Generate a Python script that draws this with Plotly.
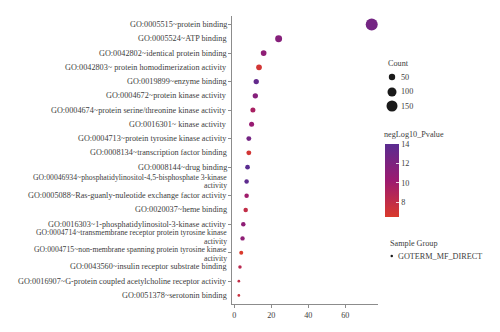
import numpy as np
import plotly.graph_objects as go

# GO molecular-function terms, listed top to bottom ("\n" marks a wrapped line)
terms = [
    "GO:0005515~protein binding",
    "GO:0005524~ATP binding",
    "GO:0042802~identical protein binding",
    "GO:0042803~ protein homodimerization activity",
    "GO:0019899~enzyme binding",
    "GO:0004672~protein kinase activity",
    "GO:0004674~protein serine/threonine kinase activity",
    "GO:0016301~ kinase activity",
    "GO:0004713~protein tyrosine kinase activity",
    "GO:0008134~transcription factor binding",
    "GO:0008144~drug binding",
    "GO:00046934~phosphatidylinositol-4,5-bisphosphate 3-kinase\nactivity",
    "GO:0005088~Ras-guanly-nuleotide exchange factor activity",
    "GO:0020037~heme binding",
    "GO:0016303~1-phosphatidylinositol-3-kinase activity",
    "GO:0004714~transmembrane receptor protein tyrosine kinase\nactivity",
    "GO:0004715~non-membrane spanning protein tyrosine kinase\nactivity",
    "GO:0043560~insulin receptor substrate binding",
    "GO:0016907~G-protein coupled acetylcholine receptor activity",
    "GO:0051378~serotonin binding",
]
ratio = [74.3, 24.0, 15.9, 13.4, 11.9, 11.4, 10.1, 9.4, 7.9, 7.9,
         7.2, 6.7, 6.7, 6.2, 4.9, 4.5, 3.8, 3.1, 2.5, 2.5]
count = [178, 60, 40, 40, 35, 35, 31, 31, 30, 30,
         27, 25, 25, 25, 25, 24, 20, 15, 9, 9]
neglog10_p = [12.5, 11.5, 11.0, 7.0, 13.5, 11.5, 9.5, 10.5, 12.5, 7.0,
              14.0, 13.8, 10.0, 8.0, 11.0, 11.0, 6.5, 8.5, 8.0, 7.5]
x_ticks = [0, 20, 40, 60]
cbar_ticks = [8, 10, 12, 14]
size_breaks = [50, 100, 150]
sample_group = "GOTERM_MF_DIRECT"

FONT = "Liberation Serif"
FS = 8.2
FS_WRAP = 7.7
TXT = "#404040"
AX = "#8c8c8c"
W, H = 500, 332
L, R, T, B = 232, 122, 16, 28
PW, PH = W - L - R, H - T - B


def diam(c):
    return 0.9 * np.sqrt(np.asarray(c, dtype=float))


def px_x(px):
    return (px - L) / PW


def px_y(py):
    return (T + PH - py) / PH


def txt(text, x, y, xref="paper", yref="paper", xanchor="left", yshift=0, size=FS):
    return dict(text=text, x=x, y=y, xref=xref, yref=yref, xanchor=xanchor,
                yanchor="middle", yshift=yshift, showarrow=False, borderpad=0,
                font=dict(family=FONT, size=size, color=TXT))


colorscale = [[0.0, "#da3a2c"], [0.5, "#9c1a70"], [1.0, "#5a2c90"]]

fig = go.Figure()
fig.add_trace(go.Scatter(
    x=ratio, y=terms, mode="markers", showlegend=False,
    marker=dict(
        size=diam(count), sizemode="diameter",
        color=neglog10_p, colorscale=colorscale, cmin=6.5, cmax=14.0,
        line=dict(width=0), opacity=1,
        colorbar=dict(
            tickvals=cbar_ticks, ticks="inside", ticklen=3,
            tickcolor="rgba(255,255,255,0.8)", tickwidth=1,
            tickfont=dict(family=FONT, size=FS, color=TXT),
            thickness=14, thicknessmode="pixels",
            len=73, lenmode="pixels",
            x=px_x(385), xanchor="left",
            y=px_y(217), yanchor="bottom",
            xpad=0, ypad=0, outlinewidth=0,
        ),
    ),
))

ann = []
shapes = []

# Category labels; wrapped lines set close together and nudged apart
# where two wrapped labels sit next to each other
wrapped = ["\n" in t for t in terms]
half_gap = 4.27
for i, term in enumerate(terms):
    lines = term.split("\n")
    if len(lines) == 1:
        ann.append(txt(term, px_x(228), term, yref="y", xanchor="right"))
    else:
        nudge = 0.0
        if i + 1 < len(terms) and wrapped[i + 1]:
            nudge += 1.5
        if i > 0 and wrapped[i - 1]:
            nudge -= 1.5
        ann.append(txt(lines[0], px_x(228), term, yref="y", xanchor="right",
                       yshift=half_gap + nudge, size=FS_WRAP))
        ann.append(txt(lines[1], px_x(228), term, yref="y", xanchor="right",
                       yshift=-half_gap + nudge, size=FS_WRAP))

# Colour bar heading
ann.append(txt("negLog10_Pvalue", px_x(383), px_y(134)))

# Count size legend
ann.append(txt("Count", px_x(387), px_y(64)))
for brk, cy in zip(size_breaks, [77, 92, 106]):
    d = float(diam(brk))
    cx = 392
    shapes.append(dict(type="circle", xref="paper", yref="paper",
                       x0=px_x(cx - d / 2), x1=px_x(cx + d / 2),
                       y0=px_y(cy + d / 2), y1=px_y(cy - d / 2),
                       fillcolor="#1a1a1a", line=dict(width=0)))
    ann.append(txt(str(brk), px_x(400), px_y(cy)))

# Sample group legend
ann.append(txt("Sample Group", px_x(389), px_y(243)))
shapes.append(dict(type="circle", xref="paper", yref="paper",
                   x0=px_x(390.5), x1=px_x(393), y0=px_y(257.3), y1=px_y(254.8),
                   fillcolor="#1a1a1a", line=dict(width=0)))
ann.append(txt(sample_group, px_x(397), px_y(256)))

fig.update_layout(
    width=W, height=H,
    margin=dict(l=L, r=R, t=T, b=B, pad=0),
    paper_bgcolor="white", plot_bgcolor="white",
    font=dict(family=FONT, size=FS, color=TXT),
    annotations=ann, shapes=shapes,
    xaxis=dict(
        range=[-1.2, 77.7], tickvals=x_ticks, showgrid=False, zeroline=False,
        showline=True, linecolor=AX, linewidth=1, color=TXT,
        ticks="outside", ticklen=3, tickcolor=AX, tickwidth=1,
        tickfont=dict(family=FONT, size=FS, color=TXT),
    ),
    yaxis=dict(
        categoryorder="array", categoryarray=terms,
        range=[len(terms) - 0.4, -0.6], showgrid=False, zeroline=False,
        showline=True, linecolor=AX, linewidth=1,
        ticks="outside", ticklen=3, tickcolor=AX, tickwidth=1,
        showticklabels=False,
    ),
)

fig.write_html("out.html")
